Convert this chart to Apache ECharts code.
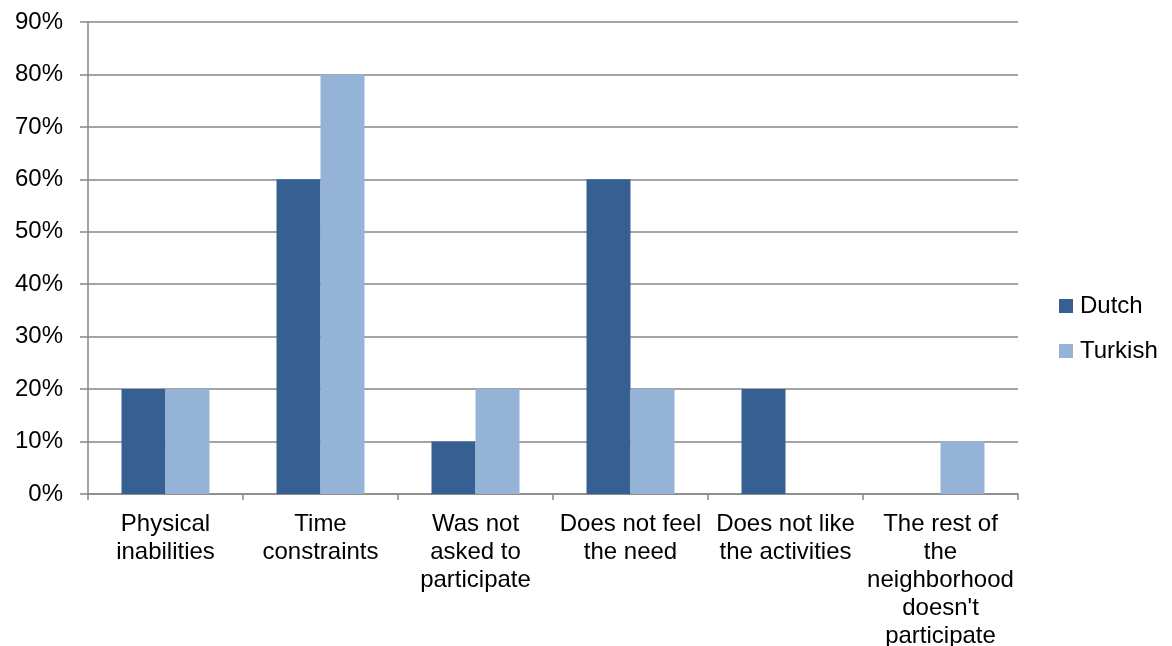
<!DOCTYPE html>
<html>
<head>
<meta charset="utf-8">
<script src="https://cdn.jsdelivr.net/npm/echarts@6/dist/echarts.min.js"></script>
<style>
  html, body { margin: 0; padding: 0; background: #fff; }
  #chart { width: 1172px; height: 646px; }
</style>
</head>
<body>
<div id="chart"></div>
<script>
var categories = [
    'Physical\ninabilities',
    'Time\nconstraints',
    'Was not\nasked to\nparticipate',
    'Does not feel\nthe need',
    'Does not like\nthe activities',
    'The rest of\nthe\nneighborhood\ndoesn\'t\nparticipate'
];
var dutch = [20, 60, 10, 60, 20, 0];
var turkish = [20, 80, 20, 20, 0, 10];

var myChart = echarts.init(document.getElementById('chart'));
var font = 'Liberation Sans, Arial, sans-serif';
var option = {
    animation: false,
    textStyle: { fontFamily: font },
    grid: { left: 88, right: 154, top: 22, bottom: 152, containLabel: false, outerBoundsMode: 'none' },
    legend: {
        orient: 'vertical',
        left: 1054,
        top: 289,
        itemWidth: 14,
        itemHeight: 14,
        itemGap: 21,
        icon: 'rect',
        textStyle: { fontSize: 24, color: '#000', fontFamily: font, padding: [0, 0, 0, 2] },
        data: ['Dutch', 'Turkish']
    },
    xAxis: {
        type: 'category',
        data: categories,
        axisLine: { lineStyle: { color: '#868686', width: 1.5 } },
        axisTick: { show: true, interval: 0, length: 6, lineStyle: { color: '#868686', width: 1.5 } },
        axisLabel: { interval: 0, fontSize: 24, color: '#000', lineHeight: 28, margin: 16, fontFamily: font }
    },
    yAxis: {
        type: 'value',
        min: 0,
        max: 90,
        interval: 10,
        axisLine: { show: true, lineStyle: { color: '#868686', width: 1.5 } },
        axisTick: { show: true, length: 8, lineStyle: { color: '#868686', width: 1.5 } },
        splitLine: { lineStyle: { color: '#868686', width: 1.5 } },
        axisLabel: { formatter: '{value}%', fontSize: 24, color: '#000', margin: 25, fontFamily: font }
    },
    series: [
        {
            name: 'Dutch',
            type: 'bar',
            data: dutch,
            barWidth: 44,
            barGap: '0%',
            itemStyle: { color: '#376092' }
        },
        {
            name: 'Turkish',
            type: 'bar',
            data: turkish,
            barWidth: 44,
            barGap: '0%',
            itemStyle: { color: '#95B3D7' }
        }
    ]
};
myChart.setOption(option);
</script>
</body>
</html>
